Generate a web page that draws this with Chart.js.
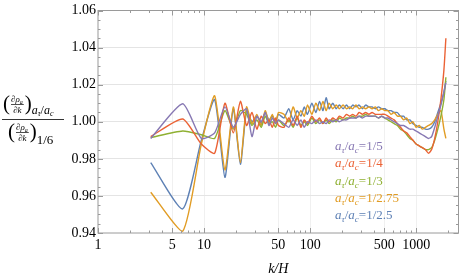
<!DOCTYPE html>
<html>
<head>
<meta charset="utf-8">
<script src="https://cdn.jsdelivr.net/npm/chart.js@4"></script>
<style>
  html, body { margin: 0; padding: 0; background: #fff; }
  #wrap { width: 459px; height: 278px; }
</style>
</head>
<body>
<div id="wrap"><canvas id="chart" width="459" height="278"></canvas></div>
<script>
// k/H sample points (multiples of pi)
const kValues = [
  3.14, 6.28, 9.42, 12.57, 15.71, 18.85, 21.99, 25.13, 28.27, 31.42, 34.56, 37.70, 40.84, 43.98, 47.12, 50.27,
  56.5, 62.8, 69.1, 75.4, 81.7, 88.0, 94.2, 103.7, 113.1, 122.5, 132.0, 141.4, 150.8, 163.4, 175.9, 188.5,
  204.2, 219.9, 235.6, 251.3, 270.2, 289.0, 311.0, 333.0, 358.0, 383.0, 411.5, 439.8, 471.0, 505.8, 540.4,
  578.0, 619.0, 663.0, 710.0, 760.0, 813.7, 870.0, 930.0, 996.0, 1065, 1140, 1219, 1304, 1395, 1492, 1596,
  1706, 1822, 1901
];

const ratio25 = [
  0.978, 0.953, 0.990, 1.012, 0.970, 1.007, 0.977, 1.006, 1.000, 1.003, 0.999, 1.005, 1.001, 1.003, 1.000, 1.004,
  1.002, 1.007, 1.001, 1.006, 1.003, 1.008, 1.004, 1.010, 1.005, 1.011, 1.006, 1.013, 1.007, 1.010, 1.007, 1.009,
  1.007, 1.009, 1.007, 1.009, 1.008, 1.009, 1.007, 1.009, 1.008, 1.008, 1.007, 1.008, 1.007, 1.007, 1.006,
  1.006, 1.005, 1.005, 1.003, 1.003, 1.001, 1.001, 0.999, 0.998, 0.997, 0.997, 0.996, 0.996, 0.997, 1.000, 1.005,
  1.010, 1.016, 1.022
];
const ratio275 = [
  0.962, 0.941, 0.988, 1.014, 0.974, 1.008, 0.978, 1.008, 0.999, 1.004, 0.998, 1.006, 1.000, 1.004, 0.999, 1.005,
  1.004, 1.000, 1.008, 1.002, 1.006, 1.003, 1.009, 1.004, 1.010, 1.006, 1.011, 1.006, 1.010, 1.007, 1.009, 1.007,
  1.009, 1.007, 1.008, 1.007, 1.009, 1.007, 1.008, 1.007, 1.008, 1.007, 1.008, 1.006, 1.007, 1.006, 1.006,
  1.004, 1.005, 1.003, 1.003, 1.001, 1.002, 0.999, 1.000, 0.997, 0.998, 0.996, 0.997, 0.998, 0.999, 1.001, 1.004,
  1.006, 0.996, 0.991
];
const ratio3 = [
  0.9915, 0.995, 0.993, 0.991, 1.006, 0.996, 1.006, 1.004, 0.998, 1.001, 0.997, 1.003, 0.999, 1.000, 0.997, 1.001,
  0.998, 1.001, 0.997, 1.002, 0.998, 1.000, 0.998, 1.002, 0.999, 1.001, 0.999, 1.001, 0.999, 1.001, 1.000, 1.002,
  1.001, 1.002, 1.002, 1.003, 1.002, 1.003, 1.003, 1.004, 1.003, 1.003, 1.003, 1.002, 1.003, 1.002, 1.001,
  1.000, 0.999, 0.998, 0.996, 0.995, 0.993, 0.991, 0.990, 0.988, 0.987, 0.986, 0.985, 0.985, 0.986, 0.990, 0.996,
  1.003, 1.012, 1.024
];
const ratio4 = [
  0.992, 1.0015, 0.988, 0.983, 1.010, 0.994, 1.011, 0.998, 1.005, 0.996, 1.003, 0.999, 1.001, 0.997, 1.002, 0.998,
  0.997, 1.002, 0.998, 1.003, 0.997, 1.001, 0.999, 1.003, 1.000, 1.002, 0.999, 1.002, 1.000, 1.002, 1.001, 1.003,
  1.002, 1.004, 1.003, 1.004, 1.003, 1.005, 1.004, 1.005, 1.004, 1.005, 1.004, 1.004, 1.004, 1.004, 1.003,
  1.002, 1.001, 0.999, 0.997, 0.995, 0.994, 0.992, 0.990, 0.988, 0.987, 0.986, 0.985, 0.983, 0.985, 0.991, 1.000,
  1.012, 1.028, 1.045
];
const ratio5 = [
  0.991, 1.0097, 0.991, 0.994, 1.008, 0.997, 1.004, 1.007, 0.992, 1.003, 1.000, 1.005, 0.998, 1.002, 0.999, 1.001,
  0.999, 0.997, 1.001, 0.998, 1.001, 0.997, 1.000, 0.999, 1.001, 0.999, 1.000, 0.999, 1.001, 1.000, 1.001, 1.000,
  1.001, 1.001, 1.002, 1.002, 1.002, 1.003, 1.002, 1.003, 1.003, 1.003, 1.003, 1.002, 1.003, 1.002, 1.002,
  1.001, 1.000, 0.999, 0.998, 0.998, 0.997, 0.996, 0.996, 0.995, 0.994, 0.993, 0.992, 0.991, 0.992, 0.997, 1.003,
  1.009, 1.016, 1.021
];

const seriesNames = ['1/2.5', '1/2.75', '1/3', '1/4', '1/5'];
const seriesColors = ['#5E81B5', '#E19C24', '#8FB032', '#EB6235', '#8778B3'];
const seriesValues = [ratio25, ratio275, ratio3, ratio4, ratio5];

const xTickValues = [1, 5, 10, 50, 100, 500, 1000];
const yTickValues = [0.94, 0.96, 0.98, 1.00, 1.02, 1.04, 1.06];

const serif = '"Liberation Serif", "DejaVu Serif", serif';

const datasets = seriesValues.map((vals, i) => ({
  label: seriesNames[i],
  data: kValues.map((k, j) => ({ x: k, y: vals[j] })),
  borderColor: seriesColors[i],
  borderWidth: 1.4,
  pointRadius: 0,
  tension: 0.2,
  fill: false,
  order: 5 - i,
}));

// frame + inward ticks like Mathematica
const framePlugin = {
  id: 'frame',
  afterDatasetsDraw(chart) {
    const { ctx, chartArea: a, scales: { x, y } } = chart;
    ctx.save();
    ctx.strokeStyle = '#9a9a9a';
    ctx.lineWidth = 1;
    ctx.strokeRect(a.left, a.top, a.right - a.left, a.bottom - a.top);
    ctx.beginPath();
    for (let dec = 1; dec <= 1000; dec *= 10) {
      for (let m = 1; m < 10; m++) {
        const v = dec * m;
        if (v > 2500) break;
        const px = Math.round(x.getPixelForValue(v)) + 0.5;
        const len = (m === 1 || m === 5) ? 5 : 2.5;
        ctx.moveTo(px, a.bottom); ctx.lineTo(px, a.bottom - len);
        ctx.moveTo(px, a.top); ctx.lineTo(px, a.top + len);
      }
    }
    for (let i = 0; i <= 24; i++) {
      const v = 0.94 + i * 0.005;
      const py = Math.round(y.getPixelForValue(v)) + 0.5;
      const len = i % 4 === 0 ? 5 : 2.5;
      ctx.moveTo(a.left, py); ctx.lineTo(a.left + len, py);
      ctx.moveTo(a.right, py); ctx.lineTo(a.right - len, py);
    }
    ctx.stroke();
    ctx.restore();
  }
};

function drawRuns(ctx, runs, x, y) {
  runs.forEach(r => {
    ctx.font = r.font;
    ctx.fillText(r.t, x, y + (r.dy || 0));
    x += ctx.measureText(r.t).width + (r.gap || 0);
  });
  return x;
}

// legend and y-axis title
const textPlugin = {
  id: 'texts',
  afterDraw(chart) {
    const ctx = chart.ctx;
    ctx.save();
    ctx.textBaseline = 'alphabetic';
    const it = 'italic 13px ' + serif, up = '13px ' + serif, sub = 'italic 9px ' + serif;
    const legendOrder = [4, 3, 2, 1, 0];
    legendOrder.forEach((si, row) => {
      ctx.fillStyle = seriesColors[si];
      drawRuns(ctx, [
        { t: 'a', font: it }, { t: 'τ', font: sub, dy: 3 }, { t: '/', font: up },
        { t: 'a', font: it }, { t: 'c', font: sub, dy: 3 }, { t: '=' + seriesNames[si], font: up }
      ], 335, 150 + row * 17.3);
    });

    // y title: fraction of derivatives
    ctx.fillStyle = '#000';
    const small = 'italic 9px ' + serif, smallSub = 'italic 6px ' + serif;
    const paren = '21px ' + serif;
    function deriv(x0, yMid) {
      ctx.font = paren;
      ctx.fillText('(', x0, yMid + 6);
      const fx = x0 + 8;
      ctx.font = small;
      const w = ctx.measureText('∂ρ').width + 4;
      drawRuns(ctx, [{ t: '∂ρ', font: small }, { t: 'a', font: smallSub, dy: 2 }], fx, yMid - 2);
      ctx.fillRect(fx, yMid, w, 0.7);
      ctx.font = small;
      ctx.fillText('∂k', fx + (w - ctx.measureText('∂k').width) / 2, yMid + 8.5);
      ctx.font = paren;
      ctx.fillText(')', fx + w + 1, yMid + 6);
      return fx + w + 1 + ctx.measureText(')').width;
    }
    let xe = deriv(3, 104);
    drawRuns(ctx, [
      { t: 'a', font: 'italic 12px ' + serif }, { t: 'τ', font: 'italic 8px ' + serif, dy: 2 },
      { t: '/', font: '12px ' + serif }, { t: 'a', font: 'italic 12px ' + serif },
      { t: 'c', font: 'italic 8px ' + serif, dy: 2 }
    ], xe, 114);
    ctx.fillRect(2, 119, 62, 0.8);
    xe = deriv(8, 132);
    drawRuns(ctx, [{ t: '1/6', font: '13px ' + serif }], xe, 144);
    ctx.restore();
  }
};

new Chart(document.getElementById('chart'), {
  type: 'line',
  data: { datasets },
  plugins: [framePlugin, textPlugin],
  options: {
    responsive: false,
    animation: false,
    events: [],
    layout: { padding: { top: 10.5, right: 0.5, left: 0, bottom: 0 } },
    plugins: { legend: { display: false }, tooltip: { enabled: false } },
    scales: {
      x: {
        type: 'logarithmic',
        min: 1,
        max: 2500,
        afterBuildTicks: s => { s.ticks = xTickValues.map(v => ({ value: v })); },
        afterFit: s => { s.height = 45; },
        border: { display: false },
        grid: {
          drawTicks: false,
          color: c => (c.tick && c.tick.value > 1) ? '#f0f0f0' : 'rgba(0,0,0,0)',
        },
        ticks: {
          autoSkip: false,
          maxRotation: 0,
          padding: 4,
          color: '#000',
          font: { family: serif, size: 14 },
          callback: v => String(v),
        },
        title: {
          display: true,
          text: 'k/H',
          color: '#000',
          padding: { top: 6, bottom: 0 },
          font: { family: serif, size: 14, style: 'italic' },
        },
      },
      y: {
        min: 0.94,
        max: 1.06,
        afterBuildTicks: s => { s.ticks = yTickValues.map(v => ({ value: v })); },
        afterFit: s => { s.width = 98; },
        border: { display: false },
        grid: {
          drawTicks: false,
          color: c => (c.tick && c.tick.value > 0.945 && c.tick.value < 1.055) ? '#e4e4e4' : 'rgba(0,0,0,0)',
        },
        ticks: {
          padding: 2,
          color: '#000',
          font: { family: serif, size: 14 },
          callback: v => Number(v).toFixed(2),
        },
      },
    },
  },
});
</script>
</body>
</html>
